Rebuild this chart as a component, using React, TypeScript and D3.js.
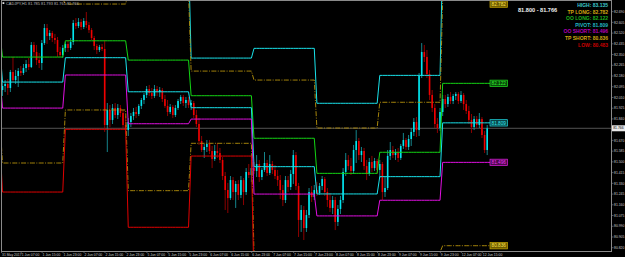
import React from "react";
import * as d3 from "d3";

const W = 625;
const H = 257;

const titleText = "CADJPY,H1  81.785 81.793 81.761 81.766";
const rangeText = "81.800 - 81.766";
const lastPrice = 81.766;

const dayNames = ["31 May", "1 Jun", "2 Jun", "5 Jun", "6 Jun", "7 Jun", "8 Jun", "9 Jun", "12 Jun"];
const dayFirstHour = [23, 0, 0, 0, 0, 0, 0, 0, 0];

// [open, high, low, close]
const bars31May = [[82.085, 82.117, 82.03, 82.069]];
const bars1Jun = [
  [82.069, 82.133, 82.022, 82.101], [82.101, 82.148, 82.053, 82.117], [82.117, 82.156, 82.03, 82.085],
  [82.085, 82.228, 82.053, 82.212], [82.212, 82.331, 82.133, 82.148], [82.148, 82.228, 82.117, 82.18],
  [82.18, 82.243, 82.093, 82.22], [82.22, 82.259, 82.18, 82.204], [82.204, 82.275, 82.188, 82.243],
  [82.243, 82.307, 82.212, 82.275], [82.275, 82.323, 82.228, 82.251], [82.251, 82.449, 82.243, 82.426],
  [82.426, 82.449, 82.331, 82.37], [82.37, 82.426, 82.267, 82.307], [82.307, 82.362, 82.243, 82.283],
  [82.283, 82.465, 82.228, 82.441], [82.441, 82.592, 82.426, 82.56], [82.56, 82.592, 82.434, 82.497],
  [82.497, 82.544, 82.465, 82.521], [82.521, 82.537, 82.449, 82.481], [82.481, 82.513, 82.434, 82.465],
  [82.465, 82.489, 82.331, 82.37], [82.37, 82.41, 82.331, 82.346], [82.346, 82.426, 82.323, 82.402],
];
const bars2Jun = [
  [82.402, 82.449, 82.37, 82.434], [82.434, 82.457, 82.37, 82.402], [82.402, 82.481, 82.386, 82.449],
  [82.449, 82.624, 82.426, 82.6], [82.6, 82.639, 82.552, 82.576], [82.576, 82.639, 82.56, 82.608],
  [82.608, 82.632, 82.544, 82.568], [82.568, 82.639, 82.552, 82.616], [82.616, 82.687, 82.56, 82.584],
  [82.584, 82.608, 82.521, 82.544], [82.544, 82.56, 82.465, 82.481], [82.481, 82.497, 82.386, 82.418],
  [82.418, 82.434, 82.354, 82.386], [82.386, 82.426, 82.37, 82.41], [82.41, 82.434, 82.378, 82.394],
  [82.394, 82.465, 81.737, 81.792], [81.792, 81.966, 81.578, 81.911], [81.911, 81.95, 81.776, 81.832],
  [81.832, 81.958, 81.8, 81.927], [81.927, 81.966, 81.847, 81.871], [81.871, 81.958, 81.839, 81.927],
  [81.927, 81.95, 81.855, 81.887], [81.887, 81.911, 81.768, 81.792], [81.792, 81.863, 81.721, 81.752],
];
const bars5Jun = [
  [81.752, 81.847, 81.705, 81.816], [81.816, 81.887, 81.776, 81.863], [81.863, 81.927, 81.832, 81.895],
  [81.895, 81.935, 81.847, 81.879], [81.879, 81.958, 81.863, 81.943], [81.943, 82.006, 81.919, 81.99],
  [81.99, 82.045, 81.958, 82.03], [82.03, 82.101, 82.006, 82.077], [82.077, 82.109, 82.022, 82.045],
  [82.045, 82.085, 81.998, 82.022], [82.022, 82.109, 82.006, 82.077], [82.077, 82.101, 82.022, 82.053],
  [82.053, 82.093, 82.014, 82.069], [82.069, 82.085, 81.974, 81.998], [81.998, 82.03, 81.927, 81.943],
  [81.943, 81.99, 81.863, 81.895], [81.895, 81.958, 81.879, 81.935], [81.935, 81.95, 81.847, 81.871],
  [81.871, 81.95, 81.855, 81.927], [81.927, 81.998, 81.911, 81.982], [81.982, 82.03, 81.958, 82.014],
  [82.014, 82.03, 81.943, 81.966], [81.966, 82.014, 81.927, 81.99], [81.99, 82.014, 81.927, 81.95],
];
const bars6Jun = [
  [81.95, 81.99, 81.911, 81.966], [81.966, 81.982, 81.847, 81.871], [81.871, 81.911, 81.776, 81.8],
  [81.8, 81.847, 81.634, 81.665], [81.665, 81.705, 81.578, 81.594], [81.594, 81.642, 81.531, 81.618],
  [81.618, 81.673, 81.578, 81.642], [81.642, 81.673, 81.562, 81.586], [81.586, 81.626, 81.451, 81.523],
  [81.523, 81.634, 81.507, 81.586], [81.586, 81.65, 81.531, 81.57], [81.57, 81.61, 81.491, 81.515],
  [81.515, 81.539, 81.356, 81.388], [81.388, 81.42, 81.119, 81.277], [81.277, 81.333, 81.095, 81.213],
  [81.213, 81.388, 81.198, 81.356], [81.356, 81.38, 81.198, 81.261], [81.261, 81.349, 81.135, 81.325],
  [81.325, 81.356, 81.198, 81.238], [81.238, 81.388, 81.213, 81.356], [81.356, 81.372, 81.158, 81.261],
  [81.261, 81.451, 81.238, 81.42], [81.42, 81.483, 81.372, 81.396], [81.396, 81.515, 81.341, 81.451],
];
const bars7Jun = [
  [81.451, 81.499, 81.404, 81.428], [81.428, 81.554, 81.38, 81.483], [81.483, 81.515, 81.341, 81.38],
  [81.38, 81.451, 81.356, 81.436], [81.436, 81.578, 81.42, 81.491], [81.491, 81.515, 81.388, 81.412],
  [81.412, 81.554, 81.396, 81.483], [81.483, 81.507, 81.404, 81.436], [81.436, 81.475, 81.364, 81.388],
  [81.388, 81.436, 81.309, 81.356], [81.356, 81.396, 81.206, 81.277], [81.277, 81.317, 81.15, 81.198],
  [81.198, 81.388, 81.174, 81.356], [81.356, 81.388, 81.261, 81.301], [81.301, 81.436, 81.277, 81.404],
  [81.404, 81.594, 81.325, 81.554], [81.554, 81.578, 81.277, 81.309], [81.309, 81.333, 80.905, 81.04],
  [81.04, 81.158, 80.945, 81.119], [81.119, 81.15, 80.881, 80.976], [80.976, 81.119, 80.945, 81.079],
  [81.079, 81.293, 81.055, 81.261], [81.261, 81.309, 81.182, 81.222], [81.222, 81.317, 81.198, 81.277],
];
const bars8Jun = [
  [81.277, 81.341, 81.23, 81.253], [81.253, 81.333, 81.238, 81.309], [81.309, 81.388, 81.277, 81.364],
  [81.364, 81.38, 81.23, 81.261], [81.261, 81.293, 81.143, 81.198], [81.198, 81.253, 81.103, 81.135],
  [81.135, 81.23, 81.087, 81.198], [81.198, 81.222, 80.96, 81.024], [81.024, 81.158, 80.992, 81.127],
  [81.127, 81.23, 81.087, 81.198], [81.198, 81.451, 81.174, 81.42], [81.42, 81.57, 81.388, 81.515],
  [81.515, 81.554, 81.436, 81.467], [81.467, 81.531, 81.396, 81.428], [81.428, 81.634, 81.404, 81.594],
  [81.594, 81.752, 81.491, 81.665], [81.665, 81.689, 81.515, 81.554], [81.554, 81.618, 81.499, 81.586],
  [81.586, 81.61, 81.436, 81.467], [81.467, 81.515, 81.356, 81.404], [81.404, 81.531, 81.388, 81.499],
  [81.499, 81.547, 81.42, 81.451], [81.451, 81.531, 81.428, 81.507], [81.507, 81.523, 81.404, 81.436],
];
const bars9Jun = [
  [81.436, 81.515, 81.372, 81.483], [81.483, 81.499, 81.198, 81.261], [81.261, 81.38, 81.222, 81.293],
  [81.293, 81.594, 81.277, 81.547], [81.547, 81.657, 81.515, 81.594], [81.594, 81.626, 81.531, 81.554],
  [81.554, 81.602, 81.515, 81.578], [81.578, 81.61, 81.499, 81.531], [81.531, 81.642, 81.515, 81.626],
  [81.626, 81.729, 81.602, 81.673], [81.673, 81.689, 81.594, 81.618], [81.618, 81.713, 81.594, 81.681],
  [81.681, 81.768, 81.626, 81.737], [81.737, 81.847, 81.705, 81.816], [81.816, 81.855, 81.697, 81.752],
  [81.752, 82.204, 81.705, 82.18], [82.18, 82.441, 82.164, 82.37], [82.37, 82.426, 82.291, 82.331],
  [82.331, 82.386, 82.164, 82.196], [82.196, 82.228, 81.99, 82.03], [82.03, 82.069, 81.895, 81.927],
  [81.927, 81.958, 81.768, 81.8], [81.8, 81.847, 81.729, 81.768], [81.768, 81.927, 81.745, 81.895],
];
const bars12Jun = [
  [81.895, 82.03, 81.863, 81.998], [81.998, 82.03, 81.927, 81.958], [81.958, 82.038, 81.935, 82.014],
  [82.014, 82.053, 81.958, 81.982], [81.982, 82.038, 81.958, 82.022], [82.022, 82.053, 81.99, 82.038],
  [82.038, 82.053, 81.958, 81.982], [81.982, 82.061, 81.966, 82.03], [82.03, 82.045, 81.911, 81.958],
  [81.958, 81.99, 81.879, 81.903], [81.903, 81.943, 81.8, 81.832], [81.832, 81.879, 81.729, 81.776],
  [81.776, 81.863, 81.752, 81.839], [81.839, 81.863, 81.768, 81.792], [81.792, 81.887, 81.768, 81.839],
  [81.839, 81.855, 81.689, 81.713], [81.713, 81.745, 81.57, 81.594], [81.594, 81.792, 81.554, 81.766],
];

// daily levels (31 May .. 12 Jun)
const highLevel = [83.06, 82.987, 82.895, 83.129, 82.322, 82.399, 81.964, 82.185, 83.135];
const tpLong = [82.87, 82.79, 82.75, 82.843, 82.219, 82.148, 81.768, 81.972, 82.782];
const ooLong = [82.52, 82.33, 82.459, 82.306, 82.024, 81.687, 81.409, 81.576, 82.122];
const pivotLevel = [82.409, 82.132, 82.325, 82.055, 81.929, 81.462, 81.246, 81.383, 81.809];
const ooShort = [82.18, 81.926, 82.188, 81.802, 81.839, 81.245, 81.072, 81.196, 81.496];
const tpShort = [81.831, 81.491, 81.911, 81.272, 81.647, 80.775, 80.72, 80.785, 80.836];
const lowLevel = [81.649, 81.261, 81.758, 80.982, 81.546, 80.525, 80.529, 80.58, 80.483];

const legendNames = ["HIGH", "TP LONG", "OO LONG", "PIVOT", "OO SHORT", "TP SHORT", "LOW"];
const priceTicks = [80.82, 80.905, 80.99, 81.075, 81.16, 81.245, 81.33, 81.415, 81.5, 81.585, 81.67, 81.84, 81.925, 82.01, 82.095, 82.18, 82.265, 82.35, 82.435, 82.52, 82.605, 82.69];

const FONT = "'Liberation Sans', Arial, sans-serif";

export default function App() {
  const days = [bars31May, bars1Jun, bars2Jun, bars5Jun, bars6Jun, bars7Jun, bars8Jun, bars9Jun, bars12Jun];
  const bars = days.flatMap((arr, d) =>
    arr.map((b, k) => ({ o: b[0], h: b[1], l: b[2], c: b[3], day: d, hour: dayFirstHour[d] + k }))
  );
  const n = bars.length;

  const x = d3.scaleLinear().domain([0, n - 1]).range([-0.12, -0.12 + (n - 1) * 2.62]);
  const y = d3.scaleLinear().domain([80.802, 82.782]).range([250, 0]);

  const plotL = 1.5, plotT = 0.5, plotR = 611.5, plotB = 251.5;
  const lineEndX = 490;

  const levelSeries = [
    { vals: highLevel, color: "#19e2ea", dash: null },
    { vals: tpLong, color: "#b8930c", dash: "5 1.4 1 1.4" },
    { vals: ooLong, color: "#14d414", dash: null },
    { vals: pivotLevel, color: "#19e2ea", dash: null },
    { vals: ooShort, color: "#e010e0", dash: null },
    { vals: tpShort, color: "#b8930c", dash: "5 1.4 1 1.4" },
    { vals: lowLevel, color: "#e00000", dash: null },
  ];
  const legendColors = ["#3cc8cc", "#d4aa10", "#1cb01c", "#22b8c0", "#b400b4", "#d4aa10", "#c80000"];

  const lineGen = d3.line<[number, number]>().x((p) => p[0]).y((p) => p[1]);
  const levelPath = (vals: number[]) => {
    const pts: [number, number][] = bars.map((b, i) => [x(i), y(vals[b.day])]);
    pts.push([lineEndX, y(vals[vals.length - 1])]);
    return lineGen(pts) || "";
  };

  const timeLabels = bars
    .map((b, i) => ({ b, i }))
    .filter(({ b, i }) => i === 0 || (b.day > 0 && (b.hour === 7 || b.hour === 15 || b.hour === 23)))
    .map(({ b, i }) => ({
      x: i === 0 ? 1.5 : x(i) + 0.3,
      text: i === 0 ? "31 May 2017" : `${dayNames[b.day]} ${String(b.hour).padStart(2, "0")}:00`,
    }));

  const last = levelSeries.map((s) => s.vals[s.vals.length - 1]);
  const boxes = [
    { v: last[1], stroke: "#c8a800", fill: "#6e5c00", text: "#ffe24a" },
    { v: last[2], stroke: "#20e020", fill: "#0a4a0a", text: "#30f030" },
    { v: last[3], stroke: "#20d8e0", fill: "#0a4448", text: "#30e8f0" },
    { v: last[4], stroke: "#e020e0", fill: "#4a0a4a", text: "#f030f0" },
    { v: last[5], stroke: "#c8a800", fill: "#6e5c00", text: "#ffe24a" },
  ];
  const boxH = 6.4;

  return (
    <svg width={W} height={H} style={{ position: "absolute", left: 0, top: 0, display: "block" }} fontFamily={FONT}>
      <rect x={0} y={0} width={W} height={H} fill="#000" />
      <defs>
        <clipPath id="plot">
          <rect x={plotL} y={plotT} width={plotR - plotL} height={plotB - plotT} />
        </clipPath>
      </defs>
      <g clipPath="url(#plot)">
        <line x1={plotL} x2={plotR} y1={y(lastPrice)} y2={y(lastPrice)} stroke="#6a6a6a" strokeWidth={0.8} />
        {bars.map((b, i) => {
          const up = b.c >= b.o;
          const cx = x(i);
          const top = y(Math.max(b.o, b.c));
          const bot = y(Math.min(b.o, b.c));
          return (
            <g key={i}>
              <line x1={cx} x2={cx} y1={y(b.h)} y2={y(b.l)} stroke={up ? "#1aa6ae" : "#b00000"} strokeWidth={0.8} />
              <rect x={cx - 0.8} y={top} width={1.6} height={Math.max(0.8, bot - top)} fill={up ? "#00e6f0" : "#f00000"} />
            </g>
          );
        })}
        {levelSeries.map((s, k) => (
          <path key={k} d={levelPath(s.vals)} fill="none" stroke={s.color} strokeWidth={s.dash ? 0.9 : 1} strokeDasharray={s.dash || undefined} />
        ))}
      </g>
      {boxes.map((bx, k) => {
        const top = Math.max(plotT + 0.4, y(bx.v) - boxH / 2);
        return (
          <g key={k}>
            <rect x={490} y={top} width={17.5} height={boxH} fill={bx.fill} stroke={bx.stroke} strokeWidth={0.7} />
            <text x={498.75} y={top + boxH / 2 + 1.7} fontSize={4.7} fill={bx.text} textAnchor="middle">{bx.v.toFixed(3)}</text>
          </g>
        );
      })}
      {/* frame */}
      <rect x={plotL} y={plotT} width={plotR - plotL} height={plotB - plotT} fill="none" stroke="#8a8a8a" strokeWidth={1} />
      {/* title */}
      <rect x={2.5} y={2.2} width={1.8} height={1.8} fill="#e0e0e0" />
      <text x={6} y={5} fontSize={3.9} fill="#b8b8b8">{titleText}</text>
      {/* range text */}
      <text x={518} y={12} fontSize={5.6} fontWeight="bold" fill="#f0f0f0">{rangeText}</text>
      {/* legend */}
      {legendNames.map((nm, k) => (
        <text key={nm} x={608} y={7 + k * 6.6} fontSize={5} fontWeight="bold" fill={legendColors[k]} textAnchor="end">
          {`${nm}: ${last[k].toFixed(3)}`}
        </text>
      ))}
      {/* price axis */}
      {priceTicks.map((t) => (
        <g key={t}>
          <line x1={plotR} x2={plotR + 2} y1={y(t)} y2={y(t)} stroke="#8a8a8a" strokeWidth={0.6} />
          <text x={614} y={y(t) + 1.2} fontSize={3.4} fill="#c8c8c8">{t.toFixed(3)}</text>
        </g>
      ))}
      <rect x={612} y={y(lastPrice) - 3} width={13} height={6} fill="#e8e8e8" />
      <text x={613.2} y={y(lastPrice) + 1.2} fontSize={3.4} fill="#000">{lastPrice.toFixed(3)}</text>
      {/* time axis */}
      {timeLabels.map((t, k) => (
        <g key={k}>
          <line x1={t.x} x2={t.x} y1={plotB} y2={plotB + 1.5} stroke="#8a8a8a" strokeWidth={0.6} />
          <text x={t.x + 0.5} y={256} fontSize={3.4} fill="#c8c8c8">{t.text}</text>
        </g>
      ))}
    </svg>
  );
}
